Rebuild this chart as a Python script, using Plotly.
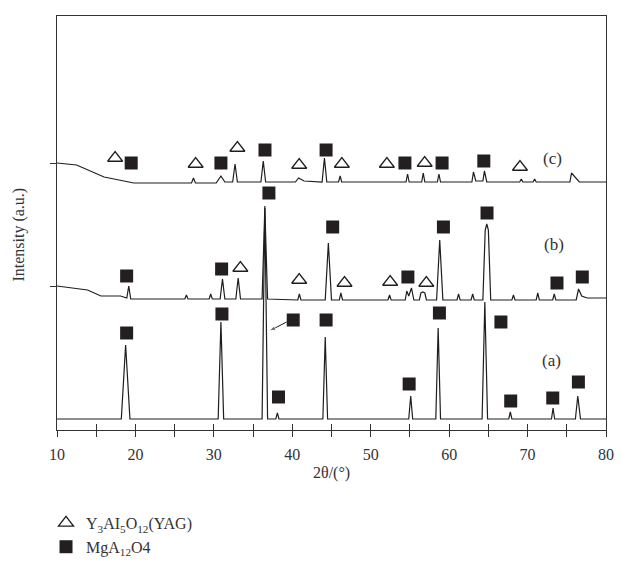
import plotly.graph_objects as go

# ---------------- data (2theta in degrees, intensity in arbitrary units) ----------------
# pattern (a)
a_2theta = [10, 18.2, 18.75, 19.3, 30.55, 30.9, 31.25, 36.15, 36.5, 36.85, 37.9, 38.1, 38.3,
            43.9, 44.2, 44.5, 54.85, 55.1, 55.35, 58.3, 58.6, 58.9, 64.2, 64.55, 64.9,
            67.6, 67.8, 68.0, 73.05, 73.25, 73.45, 76.1, 76.4, 76.75, 80]
a_int = [11, 11, 85, 11, 11, 108, 11, 11, 224, 11, 11, 17, 11,
         11, 93, 11, 11, 34, 11, 11, 102, 11, 11, 128, 11,
         11, 18, 11, 11, 22, 11, 11, 34, 11, 11]

# pattern (b)
b_2theta = [10, 13.9, 15.6, 18.1, 18.9, 19.15, 19.4, 26.3, 26.5, 26.7, 29.4, 29.6, 29.8,
            30.8, 31.1, 31.4, 32.8, 33.1, 33.4, 36.15, 36.5, 36.85, 40.7, 40.9, 41.1,
            44.2, 44.6, 45.0, 46.0, 46.2, 46.4, 52.2, 52.4, 52.6, 54.4, 54.6, 54.85, 55.2, 55.5,
            56.2, 56.4, 56.65, 56.9, 57.1, 58.4, 58.8, 59.2, 61.0, 61.2, 61.4, 62.8, 63.0, 63.2,
            64.3, 64.6, 64.8, 65.0, 65.3, 68.0, 68.2, 68.4, 71.1, 71.3, 71.5, 73.2, 73.4, 73.6,
            76.2, 76.5, 76.9, 77.6, 80]
b_int = [144, 140, 134, 134, 132, 144, 131, 131, 135, 131, 131, 136, 131,
         131, 151, 131, 131, 152, 131, 131, 222, 131, 130, 136, 130,
         130, 187, 130, 130, 137, 130, 130, 135, 130, 130, 139, 134, 142, 130,
         130, 137, 138, 137, 130, 130, 190, 130, 130, 136, 130, 130, 136, 130,
         130, 200, 206, 200, 130, 130, 135, 130, 130, 137, 130, 130, 136, 130,
         130, 141, 134, 132, 132]

# pattern (c)
c_2theta = [10, 12.5, 16.0, 19.8, 27.15, 27.4, 27.65, 30.3, 30.9, 31.4, 32.4, 32.7, 33.0,
            36.0, 36.3, 36.6, 40.4, 40.8, 41.5, 43.8, 44.1, 44.4, 45.9, 46.1, 46.3,
            54.5, 54.7, 54.9, 56.5, 56.7, 56.9, 58.5, 58.7, 58.9, 62.9, 63.1, 63.4, 64.3, 64.5, 64.8,
            69.0, 69.2, 69.4, 70.7, 70.9, 71.1, 75.4, 75.6, 76.6, 80]
c_int = [267, 265, 253, 247, 247, 252, 247, 247, 254, 248, 248, 266, 248,
         248, 269, 248, 248, 252, 249, 248, 272, 248, 248, 254, 248,
         248, 256, 248, 248, 257, 248, 248, 256, 248, 248, 258, 249, 249, 259, 248,
         248, 251, 248, 248, 251, 248, 248, 257, 248, 248]

# phase markers: Y3Al5O12 (YAG) triangles
yag_2theta = [33.38, 40.88, 46.66, 52.48, 57.09,
              17.41, 27.68, 33.0, 40.88, 46.32, 52.06, 56.88, 69.03]
yag_int = [162, 150, 147, 148, 147,
           272, 266, 282, 265, 266, 266, 267, 263]

# phase markers: MgAl2O4 squares
spinel_2theta = [18.88, 31.03, 40.12, 38.24, 44.31, 54.9, 58.76, 66.6, 67.85, 73.21, 76.48,
                 18.88, 30.99, 37.02, 45.15, 54.74, 59.27, 64.83, 73.75, 76.98,
                 19.46, 30.9, 36.52, 44.31, 54.36, 59.1, 64.42]
spinel_int = [97, 116, 110, 33, 110, 46, 117, 108, 29, 32, 48,
              154, 161, 237, 203, 153, 203, 217, 147, 153,
              267, 267, 280, 280, 267, 267, 269]

# arrow from a marker to the strong (a) peak: tail, head
arrow_2theta = [39.28, 37.06]
arrow_int = [108, 99]

pattern_labels = ["(a)", "(b)", "(c)"]
label_2theta = [73.1, 73.35, 73.2]
label_int = [70, 186, 272]

x_tickvals = [10, 20, 30, 40, 50, 60, 70, 80]
x_ticktext = ["10", "20", "30", "40", "50", "60", "70", "80"]
y_tickvals = [144, 267]

SERIF = "Liberation Serif"
INK = "#1e1e1e"
TXT = "#333333"

fig = go.Figure()
for xs, ys in [(a_2theta, a_int), (b_2theta, b_int), (c_2theta, c_int)]:
    fig.add_trace(go.Scatter(x=xs, y=ys, mode="lines", line=dict(color=INK, width=1.2),
                             showlegend=False, hoverinfo="skip"))

fig.add_trace(go.Scatter(x=yag_2theta, y=yag_int, mode="markers",
                         marker=dict(symbol="triangle-up-open", size=13, color=INK,
                                     line=dict(width=1.3, color=INK)),
                         name="Y<sub>3</sub>AI<sub>5</sub>O<sub>12</sub>(YAG)"))
fig.add_trace(go.Scatter(x=spinel_2theta, y=spinel_int, mode="markers",
                         marker=dict(symbol="square", size=13, color="#231f20"),
                         name="MgA<sub>12</sub>O4"))
fig.add_trace(go.Scatter(x=arrow_2theta, y=arrow_int, mode="lines+markers",
                         line=dict(color=INK, width=1),
                         marker=dict(symbol=["circle", "arrow"], size=[0, 7], color=INK,
                                     angleref="previous"),
                         showlegend=False, hoverinfo="skip"))
# invisible trace so the overlaid tick axis (ticks inside) is drawn
fig.add_trace(go.Scatter(x=[10], y=[0], xaxis="x2", mode="markers",
                         marker=dict(opacity=0), showlegend=False, hoverinfo="skip"))

for t, xv, yv in zip(pattern_labels, label_2theta, label_int):
    fig.add_annotation(x=xv, y=yv, text=t, showarrow=False,
                       font=dict(family=SERIF, size=17, color=TXT))

fig.add_annotation(x=-0.07, y=0.471, xref="paper", yref="paper", text="Intensity (a.u.)",
                   textangle=-90, showarrow=False, xanchor="center", yanchor="middle",
                   font=dict(family=SERIF, size=16, color=TXT))
fig.add_annotation(x=0.5, y=-0.105, xref="paper", yref="paper", text="2θ/(°)",
                   showarrow=False, xanchor="center", yanchor="middle",
                   font=dict(family=SERIF, size=16, color=TXT))

fig.update_layout(
    width=626, height=562,
    margin=dict(l=57, r=12, t=16, b=132),
    paper_bgcolor="white", plot_bgcolor="white",
    font=dict(family=SERIF, size=16, color=TXT),
    showlegend=True,
    # container-referenced y so the legend below the axes does not shrink the plot area
    legend=dict(xref="paper", yref="container", x=-0.02, y=0.0996,
                xanchor="left", yanchor="top",
                font=dict(family=SERIF, size=16, color=TXT),
                bgcolor="rgba(0,0,0,0)", tracegroupgap=0),
    xaxis=dict(range=[10, 80], tickvals=x_tickvals, ticktext=x_ticktext,
               ticks="outside", ticklen=6, tickwidth=1, tickcolor="#333",
               ticklabelstandoff=4, ticklabeloverflow="allow",
               minor=dict(dtick=5, tick0=10, ticks="outside", ticklen=6, tickwidth=1, tickcolor="#333"),
               showline=True, linecolor="#333", linewidth=1.2, mirror=True,
               showgrid=False, zeroline=False, tickfont=dict(size=16)),
    xaxis2=dict(range=[10, 80], overlaying="x", side="bottom", anchor="y",
                dtick=5, tick0=10, ticks="inside", ticklen=6, tickwidth=1, tickcolor="#333",
                showticklabels=False, showline=False, showgrid=False, zeroline=False),
    yaxis=dict(range=[0, 414], tickvals=y_tickvals, showticklabels=False,
               ticks="outside", ticklen=6, tickwidth=1, tickcolor="#333",
               showline=True, linecolor="#333", linewidth=1.2, mirror=True,
               showgrid=False, zeroline=False),
)

# remove the browser's default body margin so the 626x562 figure fills the window exactly
fig.write_html("out.html", config={"displayModeBar": False},
               post_script="document.body.style.margin='0';document.body.style.overflow='hidden';")
